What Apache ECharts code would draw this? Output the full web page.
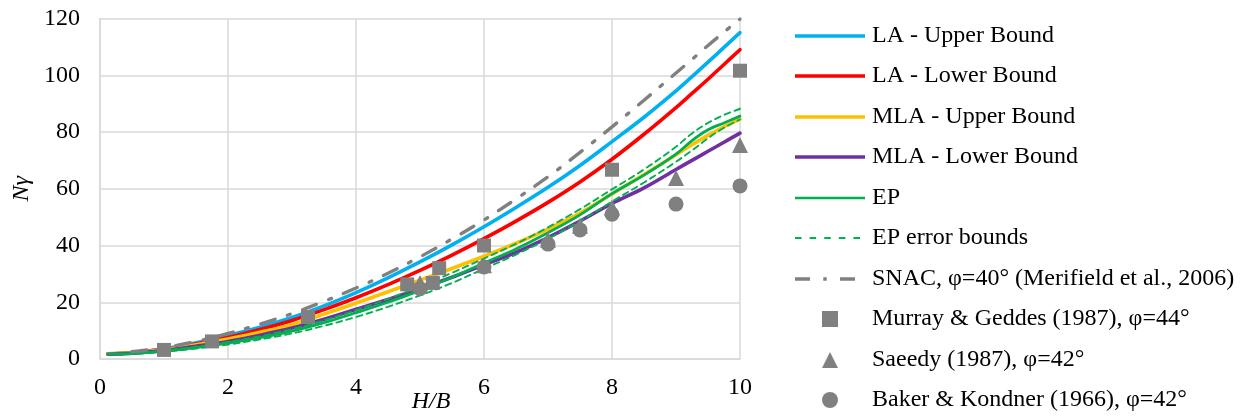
<!DOCTYPE html>
<html><head><meta charset="utf-8">
<script src="https://cdn.jsdelivr.net/npm/echarts/dist/echarts.min.js"></script>
<style>html,body{margin:0;padding:0;background:#fff}#c{width:1249px;height:419px}</style>
</head><body><div id="c"></div>
<script>
// ---- data ----
const hb = [0.125,0.5,1,1.5,2,2.5,3,3.5,4,4.5,5,5.5,6,6.5,7,7.5,8,8.5,9,9.25,9.5,9.75,10];
const laUpper  = [1.8,2.3,3.6,5.7,8.3,11.2,14.6,18.7,23.4,28.6,34.2,40.2,46.6,53.4,60.5,68.2,76.6,85.2,94.5,99.5,104.6,109.8,115];
const laLower  = [1.8,2.2,3.4,5.3,7.6,10.4,13.6,17.4,21.6,26.2,31.2,36.6,42.4,48.6,55.2,62.4,70.4,79.2,88.6,93.6,98.6,103.8,109];
const mlaUpper = [1.8,2.2,3.3,5.0,7.0,9.4,12.1,15.8,19.7,23.7,27.8,31.9,36.2,40.8,45.8,51.4,58.2,65.0,72.0,75.5,78.8,81.8,84.5];
const mlaLower = [1.7,2.0,3.0,4.5,6.2,8.4,10.9,14.0,17.5,21.0,24.8,28.8,33.2,37.6,42.8,48.6,54.8,60.3,66.8,70.0,73.2,76.4,79.6];
const ep       = [1.7,1.9,2.8,4.0,5.6,7.5,9.8,12.8,16.3,20.0,24.2,28.8,33.8,38.8,44.5,50.8,58.3,64.8,72.2,77.0,80.8,83.2,85.6];
const epUpper  = [1.8,2.0,3.0,4.3,6.0,8.0,10.5,13.6,17.2,21.2,25.6,30.4,35.4,40.6,46.4,52.8,59.8,66.8,74.8,79.5,83.2,86.0,88.2];
const epLower  = [1.6,1.8,2.6,3.7,5.1,6.9,9.0,11.7,14.8,18.4,22.4,26.8,31.8,36.8,42.4,48.6,55.5,62.2,69.5,73.5,77.8,81.5,84.4];
const snac     = [null,2.6,4.0,6.2,9.0,12.3,16.0,20.3,25.0,30.2,36.0,42.3,49.0,56.4,64.2,72.8,81.8,91.2,100.8,105.6,110.5,115.2,119.8];
const murrayX = [1,1.75,3.25,4.8,5.2,5.3,6,8,10];
const murrayY = [3.2,6.2,14.8,26.3,26.8,32,40,66.7,101.6];
const saeedyX = [5,6,7,7.5,8,9,10];
const saeedyY = [26.8,33,42,47,53.4,63.8,75.4];
const bakerX  = [5,6,7,7.5,8,9,10];
const bakerY  = [24.8,32.4,40.5,45.5,51,54.6,61];
const xTicks = {min:0, max:10, interval:2};
const yTicks = {min:0, max:120, interval:20};
const names = ['LA - Upper Bound','LA - Lower Bound','MLA - Upper Bound','MLA - Lower Bound','EP','EP error bounds',
  'SNAC, φ=40° (Merifield et al., 2006)','Murray & Geddes (1987), φ=44°','Saeedy (1987), φ=42°','Baker & Kondner (1966), φ=42°'];

// ---- chart ----
const F = 'Liberation Serif';
const GREY = '#808080';
const C = {blue:'#00B0F0', red:'#FF0000', yellow:'#FFC000', purple:'#7030A0', green:'#00B050'};
const pairs = (xs, ys) => xs.map((x, i) => [x, ys[i]]);
function line(name, ys, color, width, dash, z) {
  return {name, type:'line', data:pairs(hb, ys), symbol:'none', smooth:0.35, z:z,
    lineStyle:{color, width, type:dash || 'solid', cap:'round'}, itemStyle:{color}, emphasis:{disabled:true}};
}
function scat(name, xs, ys, symbol, size) {
  return {name, type:'scatter', data:pairs(xs, ys), symbol, symbolSize:size, z:10,
    itemStyle:{color:GREY, opacity:1}, emphasis:{disabled:true}};
}
const LW = 3.6;
const series = [
  line(names[0], laUpper, C.blue, LW, null, 2),
  line(names[1], laLower, C.red, LW, null, 2),
  line(names[2], mlaUpper, C.yellow, LW, null, 2),
  line(names[3], mlaLower, C.purple, LW, null, 2),
  line(names[4], ep, C.green, 2.8, null, 3),
  line(names[5], epUpper, C.green, 1.9, [6,4.5], 3),
  line(names[5], epLower, C.green, 1.9, [6,4.5], 3),
  line(names[6], snac, GREY, 3.4, [15,13,3,13], 4),
  scat(names[7], murrayX, murrayY, 'rect', 14),
  scat(names[8], saeedyX, saeedyY, 'triangle', 16),
  scat(names[9], bakerX, bakerY, 'circle', 15)
];
// legend icons (drawn shapes)
const bar = (w, h) => `path://M0,0H${w}V${h}H0Z`;
const dashes = 'path://M0,0H6.5V2H0Z M14.6,0H21.1V2H14.6Z M29.2,0H35.7V2H29.2Z M43.8,0H50.3V2H43.8Z M58.4,0H64.9V2H58.4Z';
const dashDot = 'path://M0,0H15V3.4H0Z M28.3,0H31.7V3.4H28.3Z M45,0H60V3.4H45Z';
const iconSpec = [
  {icon:bar(70,3.4), color:C.blue, w:70, dx:0},
  {icon:bar(70,3.4), color:C.red, w:70, dx:0},
  {icon:bar(70,3.4), color:C.yellow, w:70, dx:0},
  {icon:bar(70,3.4), color:C.purple, w:70, dx:0},
  {icon:bar(70,2.7), color:C.green, w:70, dx:0},
  {icon:dashes, color:C.green, w:65, dx:0},
  {icon:dashDot, color:GREY, w:60, dx:0},
  {icon:'path://M0,0H10V10H0Z', color:GREY, w:70, dx:27},
  {icon:'path://M5,0L10,10H0Z', color:GREY, w:70, dx:27},
  {icon:'circle', color:GREY, w:70, dx:27}
];
const legends = names.map((n, i) => ({
  data:[{name:n, icon:iconSpec[i].icon, itemStyle:{color:iconSpec[i].color, borderWidth:0, borderColor:iconSpec[i].color}}],
  left:795 + iconSpec[i].dx, top:Math.round(36 + 40.45*i - 12), orient:'vertical', padding:0,
  itemWidth:iconSpec[i].w, itemHeight:16, itemGap:0, selectedMode:false, symbolKeepAspect:true,
  textStyle:{fontFamily:F, fontSize:24, color:'#000', lineHeight:24, padding:[0,0,0,72 - iconSpec[i].w]}
}));
const axisCommon = {
  axisLine:{show:true, lineStyle:{color:'#D9D9D9', width:1.5}},
  axisTick:{show:false},
  splitLine:{show:true, lineStyle:{color:'#D9D9D9', width:1.5}}
};
const chart = echarts.init(document.getElementById('c'), null, {renderer:'canvas'});
chart.setOption({
  animation:false,
  backgroundColor:'#fff',
  grid:{left:100, right:509, top:18.5, bottom:60, containLabel:false, outerBoundsMode:'none'},
  legend:legends,
  xAxis:Object.assign({type:'value', min:xTicks.min, max:xTicks.max, interval:xTicks.interval,
    name:'H/B', nameLocation:'middle', nameGap:31, nameMoveOverlap:false,
    nameTextStyle:{fontFamily:F, fontSize:24, fontStyle:'italic', color:'#000', padding:[0,0,0,22]}},
    axisCommon, {axisLabel:{fontFamily:F, fontSize:24, color:'#000', margin:17}}),
  yAxis:Object.assign({type:'value', min:yTicks.min, max:yTicks.max, interval:yTicks.interval,
    name:'Nγ', nameLocation:'middle', nameGap:66, nameMoveOverlap:false,
    nameTextStyle:{fontFamily:F, fontSize:24, fontStyle:'italic', color:'#000'}},
    axisCommon, {axisLabel:{fontFamily:F, fontSize:24, color:'#000', margin:20}}),
  series
});
</script></body></html>
